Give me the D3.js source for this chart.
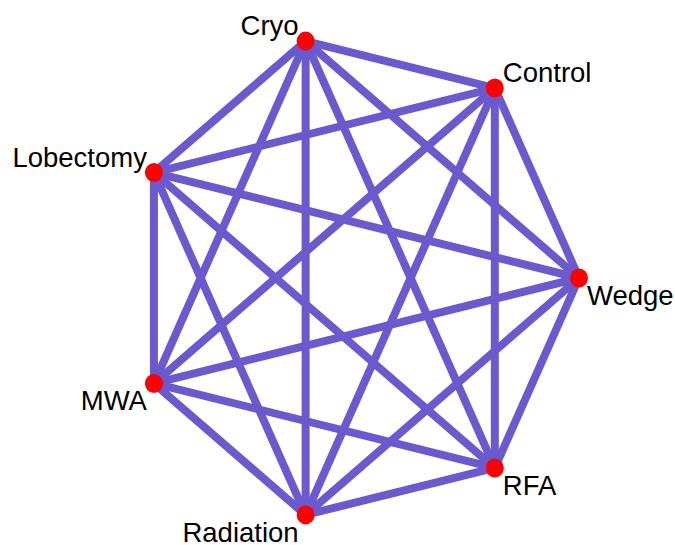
<!DOCTYPE html>
<html><head><meta charset="utf-8">
<script src="https://cdn.jsdelivr.net/npm/d3@7"></script>
<style>html,body{margin:0;padding:0;background:#fff;overflow:hidden}</style>
</head><body>
<svg id="chart" width="675" height="545"></svg>
<script>
// Nodes in circular-layout order (starting at the right, going clockwise on screen)
const nodeNames = ["Wedge", "RFA", "Radiation", "MWA", "Lobectomy", "Cryo", "Control"];
// Edges (complete graph between the 7 treatments)
const edgeList = [
  ["Wedge","RFA"],["Wedge","Radiation"],["Wedge","MWA"],["Wedge","Lobectomy"],["Wedge","Cryo"],["Wedge","Control"],
  ["RFA","Radiation"],["RFA","MWA"],["RFA","Lobectomy"],["RFA","Cryo"],["RFA","Control"],
  ["Radiation","MWA"],["Radiation","Lobectomy"],["Radiation","Cryo"],["Radiation","Control"],
  ["MWA","Lobectomy"],["MWA","Cryo"],["MWA","Control"],
  ["Lobectomy","Cryo"],["Lobectomy","Control"],
  ["Cryo","Control"]
];

const svg = d3.select("#chart");
svg.append("rect").attr("width",675).attr("height",545).attr("fill","#fff");

// circle layout coordinates in [-1,1]
const n = nodeNames.length;
const nodes = nodeNames.map((name,i)=>{
  const a = 2*Math.PI*i/n;
  return {name, lx: Math.cos(a), ly: Math.sin(a)};
});
const byName = new Map(nodes.map(d=>[d.name,d]));

const x = d3.scaleLinear().domain([-1,1]).range([131.8, 579]);
const y = d3.scaleLinear().domain([-1,1]).range([35, 521]);

svg.append("g").selectAll("line").data(edgeList).join("line")
  .attr("x1",d=>x(byName.get(d[0]).lx)).attr("y1",d=>y(byName.get(d[0]).ly))
  .attr("x2",d=>x(byName.get(d[1]).lx)).attr("y2",d=>y(byName.get(d[1]).ly))
  .attr("stroke","#6a5acd").attr("stroke-width",8).attr("stroke-linecap","butt");

svg.append("g").selectAll("ellipse").data(nodes).join("ellipse")
  .attr("cx",d=>x(d.lx)).attr("cy",d=>y(d.ly))
  .attr("rx",9).attr("ry",9.5).attr("fill","#ff0000");

svg.append("g").selectAll("text").data(nodes).join("text")
  .attr("x",d=> d.lx>0.5 ? x(d.lx)+8 : x(d.lx)-7)
  .attr("y",d=> d.ly< -0.01 ? y(d.ly)-6 : y(d.ly)+27)
  .attr("text-anchor",d=> d.lx>0.5 ? "start" : "end")
  .attr("font-family","Liberation Sans, Arial, sans-serif")
  .attr("font-size",27.5)
  .attr("fill","#000")
  .text(d=>d.name);
</script>
</body></html>
